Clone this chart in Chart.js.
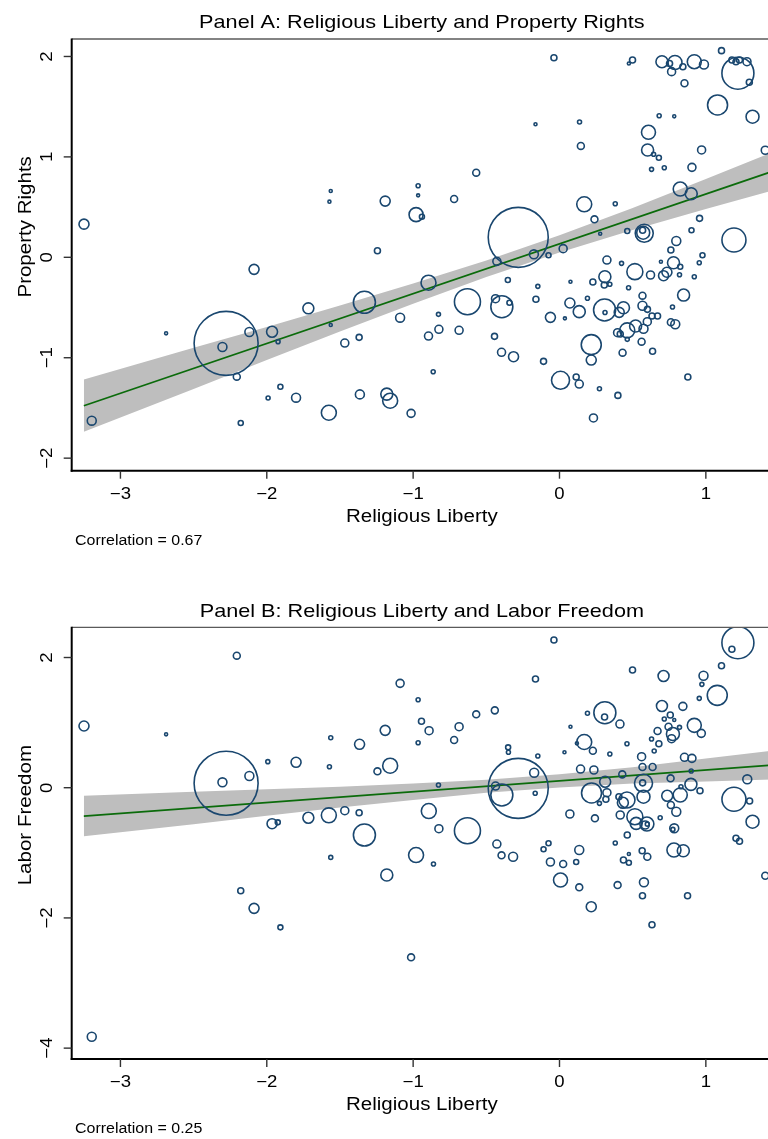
<!DOCTYPE html>
<html><head><meta charset="utf-8">
<script src="https://cdn.jsdelivr.net/npm/chart.js@4.4.1/dist/chart.umd.min.js"></script>
<style>
html,body{margin:0;padding:0;background:#fff;overflow:hidden;width:768px;height:1139px;position:relative;}
.wrap{position:absolute;left:0;width:772px;}
canvas{display:block;}
</style></head><body>
<div class="wrap" style="top:0"><canvas id="cA" width="772" height="560"></canvas></div>
<div class="wrap" style="top:560px"><canvas id="cB" width="772" height="579"></canvas></div>
<script>
// ---------------- DATA ----------------
const xTicks = [-3, -2, -1, 0, 1];
const xTickLabels = ['\u22123', '\u22122', '\u22121', '0', '1'];
const yTicksA = [-2, -1, 0, 1, 2];
const yTickLabelsA = ['\u22122', '\u22121', '0', '1', '2'];
const yTicksB = [-4, -2, 0, 2];
const yTickLabelsB = ['\u22124', '\u22122', '0', '2'];

// Panel A: Religious Liberty (x), Property Rights (y), marker weight (area)
const relA = [
-3.249,-2.087,-1.563,-1.572,-1.191,-1.244,-0.966,-0.966,-0.98,-0.94,
-0.038,0.499,0.474,0.70,0.789,0.752,0.766,0.843,0.921,0.987,
1.107,1.178,1.206,1.23,1.281,1.219,1.297,0.854,1.08,1.319,
0.681,0.784,0.608,-0.164,0.137,0.146,0.602,0.643,0.679,0.971,
1.406,0.629,0.716,0.905,-0.569,-0.72,0.169,0.381,0.825,0.90,
0.239,0.957,0.278,0.463,0.902,0.579,0.572,0.568,1.192,-0.282,
0.798,0.761,0.977,0.025,-0.075,-0.175,-0.428,0.324,0.424,0.779,
0.693,0.825,0.955,-0.895,0.515,-1.089,-0.827,-0.895,-0.824,-0.686,
-0.863,-0.629,-0.394,-0.437,-0.342,-0.353,-0.444,-0.396,-0.314,-0.148,
-0.161,-0.109,-0.062,0.037,0.075,0.071,0.135,0.007,0.114,0.135,
0.191,0.228,0.31,0.306,0.344,0.622,0.711,0.734,0.472,0.82,
0.921,0.848,0.308,0.311,0.217,0.217,0.273,0.232,0.399,0.408,
0.437,0.567,0.567,0.601,0.632,0.67,0.6,0.52,0.463,0.574,
0.397,0.415,0.463,0.561,0.431,0.636,0.772,0.761,0.791,0.877,
-1.014,-1.716,-1.333,-1.563,-2.688,-2.278,-2.303,-2.119,-1.964,-1.923,
-2.205,-1.467,-1.369,-1.907,-1.991,-1.8,-1.576,-1.364,-1.18,-1.157,
-3.196,-2.178];
const propA = [
0.33,-0.12,0.66,0.554,0.56,0.066,0.713,0.617,0.425,0.404,
1.988,1.965,1.93,1.948,1.94,1.93,1.849,1.898,1.948,1.92,
2.058,1.965,1.948,1.965,1.948,1.833,1.743,1.733,1.517,1.40,
1.41,1.404,1.245,1.325,1.348,1.109,1.069,1.026,0.992,1.069,
1.066,0.876,0.892,0.896,0.843,0.581,0.528,0.534,0.68,0.633,
0.378,0.388,0.235,0.262,0.269,0.239,0.245,0.27,0.172,0.199,
0.162,0.073,0.02,0.086,0.02,0.03,-0.04,-0.027,-0.06,-0.054,
-0.044,-0.094,-0.054,-0.253,-0.143,-0.601,-0.568,-0.784,-0.717,-0.727,
-1.139,-0.442,-0.492,-0.412,-0.452,-0.226,-0.787,-0.946,-0.99,-0.289,
-0.418,-1.036,-0.598,-0.608,-0.243,-0.455,-0.541,-1.225,-1.192,-1.262,
-0.408,-0.246,-0.193,-0.276,-0.269,-0.176,-0.183,-0.149,-0.303,-0.173,
-0.193,-0.376,-0.525,-0.55,-0.87,-1.023,-1.309,-1.6,-1.375,-0.548,
-0.502,-0.382,-0.482,-0.518,-0.585,-0.585,-0.641,-0.684,-0.727,-0.711,
-0.751,-0.764,-0.817,-0.84,-0.95,-0.936,-0.495,-0.647,-0.667,-1.192,
-1.554,-0.508,-0.448,-0.674,-0.757,-0.857,-0.893,-0.744,-0.741,-0.84,
-1.189,-0.854,-0.797,-1.289,-1.401,-1.398,-1.548,-1.365,-1.362,-1.428,
-1.627,-1.65];
const weightA = [
25,25,2.3,2.3,25,9,4,2.3,49,6.3,
9,9,2.3,36,49,9,16,9,49,20,
9,9,9,9,16,256,9,12,100,42,
4,2.3,49,2.3,4,12,36,4,6.3,16,
16,4,4,16,12,12,56,4,49,36,
12,9,2.3,6.3,6.3,81,42,9,144,900,
20,9,6.3,16,6.3,20,16,16,4,36,
2.3,6.3,4,56,64,20,4,16,16,16,
4,169,121,16,6.3,6.3,9,16,25,4,
9,9,25,2.3,2.3,25,36,81,9,16,
4,9,36,9,4,16,25,25,4,4,
4,36,121,4,100,25,4,16,9,25,
36,12,20,9,9,9,16,36,56,20,
16,9,4,12,12,9,4,12,20,9,
16,30,121,2.3,2.3,1024,20,20,30,4,
12,16,9,6.3,4,20,56,20,36,56,
20,6.3];

// Panel B: Religious Liberty (x), Labor Freedom (y), marker weight (area)
const relB = [
-3.249,-2.205,-2.688,-2.278,-2.303,-2.119,-1.993,-1.8,-1.563,-1.572,
-1.366,-1.191,-1.089,-0.966,-0.966,-1.244,-1.157,-1.964,-1.925,-1.716,
-1.576,-1.467,-1.369,-1.333,-0.98,-1.563,-1.18,-2.178,-2.087,-1.907,
-1.014,-3.196,-0.038,1.219,1.178,1.107,0.499,0.711,0.984,0.973,
1.078,0.955,-0.164,-0.943,-0.891,-0.686,-0.72,-0.569,-0.442,-0.351,
-0.349,-0.148,0.075,0.191,0.31,0.308,0.413,0.461,0.169,0.119,
0.228,0.034,0.344,0.144,0.235,0.561,0.567,0.636,0.629,0.647,
0.679,0.67,0.70,0.757,0.716,0.784,0.843,0.745,0.82,0.775,
0.766,0.921,0.969,0.854,0.905,0.90,0.429,0.759,1.283,1.192,
1.299,1.319,1.206,1.23,0.898,0.96,0.825,0.83,0.736,0.761,
0.798,0.784,0.775,0.688,0.782,0.846,0.574,0.568,0.574,0.461,
0.433,0.406,0.312,0.324,0.317,0.273,0.219,0.515,0.524,0.597,
0.586,0.6,0.415,0.242,0.071,0.463,0.381,0.135,-0.075,-0.109,
-0.428,-0.173,-0.166,-0.282,-0.394,-0.437,-0.827,-0.893,-0.824,-0.629,
-0.861,-0.396,-0.317,-0.062,0.025,0.114,0.007,0.135,0.217,0.397,
0.437,0.474,0.474,0.565,0.6,0.577,0.567,0.632,0.875,1.406];
const laborB = [
0.948,2.028,0.82,0.068,0.083,0.18,0.4,0.39,0.768,0.323,
0.667,0.881,1.603,1.352,0.691,0.252,0.338,-0.553,-0.532,-0.461,
-0.424,-0.353,-0.384,-0.727,-1.034,-1.07,-1.341,-1.582,-1.853,-2.145,
-2.605,-3.825,2.269,2.227,2.126,1.874,1.808,1.716,1.72,1.588,
1.419,1.373,1.67,1.02,0.876,0.937,0.733,1.127,1.188,0.62,
0.544,0.487,0.937,1.143,1.152,1.086,0.978,0.676,0.702,0.682,
0.568,0.544,0.518,0.287,0.272,0.476,0.318,0.318,0.748,0.564,
0.676,0.871,1.255,1.117,1.055,1.04,1.25,0.937,0.927,0.825,
0.753,0.958,0.835,0.467,0.451,0.257,0.205,0.144,0.129,-0.178,
-0.204,-0.522,-0.777,-0.823,0.052,-0.046,-0.112,0.015,-0.123,-0.266,
-0.369,-0.624,-0.64,-0.461,-0.957,-0.968,0.068,0.075,-0.138,-0.189,
-0.23,-0.138,0.092,-0.077,-0.178,-0.24,-0.081,-0.445,-0.547,-0.558,
-0.573,-0.56,-0.419,-0.47,-0.404,-0.727,-0.849,-0.957,-0.854,-0.946,
-0.865,0.23,-0.086,-0.01,-0.112,0.026,0.041,-0.358,-0.63,-0.66,
-1.172,-1.039,-1.06,-1.141,-1.172,-1.141,-1.418,-1.53,-1.828,-1.495,
-1.11,-1.152,-1.018,-0.968,-1.06,-1.453,-1.659,-2.104,-1.659,-1.352];
const weightB = [
25,12,2.3,1024,20,20,4,25,4,4,
25,25,16,4,4,12,56,25,6.3,30,
56,16,9,121,56,4,36,9,25,6.3,
12,20,9,256,9,9,9,30,20,4,
100,4,9,9,16,16,12,12,12,6.3,
4,4,2.3,4,121,9,16,4,56,2.3,
12,2.3,4,16,16,16,12,12,4,4,
9,12,30,9,4,2.3,16,12,4,42,
16,49,16,16,16,4,12,12,20,144,
9,42,9,9,36,9,49,4,30,12,
20,20,4,4,49,36,81,9,42,64,
30,9,30,16,9,4,100,64,36,49,
16,4,16,12,16,9,4,20,6.3,6.3,
16,20,4,900,121,16,4,56,16,169,
4,12,20,16,12,6.3,49,12,25,12,
9,6.3,2.3,9,12,20,9,9,9,12];

// Linear fit and 95% CI band
const fitX = [-3.25, 1.45];
const fitYA = [-1.478, 0.853];
const fitYB = [-0.435, 0.346];
const bandX = [-3.25, -2.5, -2, -1.5, -1, -0.5, 0, 0.5, 1, 1.45];
const bandHiA = [-1.218, -0.901, -0.693, -0.48, -0.262, -0.031, 0.219, 0.492, 0.78, 1.043];
const bandLoA = [-1.738, -1.311, -1.023, -0.74, -0.462, -0.197, 0.049, 0.272, 0.48, 0.663];
const bandHiB = [-0.125, -0.061, -0.022, 0.016, 0.063, 0.122, 0.205, 0.313, 0.447, 0.566];
const bandLoB = [-0.745, -0.561, -0.432, -0.304, -0.187, -0.078, 0.005, 0.063, 0.097, 0.126];

// ---------------- STYLE ----------------
const NAVY = '#1a476f';
const FITGREEN = '#0b6b0b';
const BANDGRAY = '#bebebe';
const FONT = '"Liberation Sans", Arial, Helvetica, sans-serif';
const STRETCH = 1.14;

function sText(ctx, str, x, y, size, align, rot) {
  ctx.save();
  ctx.translate(x, y);
  if (rot) ctx.rotate(rot);
  ctx.scale(STRETCH, 1);
  ctx.font = size + 'px ' + FONT;
  ctx.fillStyle = '#000';
  ctx.textAlign = align;
  ctx.textBaseline = 'alphabetic';
  ctx.fillText(str, 0, 0);
  ctx.restore();
}
function seg(ctx, x1, y1, x2, y2) { ctx.beginPath(); ctx.moveTo(x1, y1); ctx.lineTo(x2, y2); ctx.stroke(); }

const stataAxes = {
  id: 'stataAxes',
  afterDraw(chart) {
    const o = chart.options.plugins.stataAxes;
    const ctx = chart.ctx, a = chart.chartArea, xs = chart.scales.x, ys = chart.scales.y;
    ctx.save();
    ctx.lineCap = 'butt';
    ctx.strokeStyle = '#5a5a5a'; ctx.lineWidth = 1.3;
    seg(ctx, a.left, a.top, a.right, a.top);
    ctx.strokeStyle = '#000'; ctx.lineWidth = 2;
    seg(ctx, a.left, a.top - 0.6, a.left, a.bottom + 1);
    seg(ctx, a.left - 1, a.bottom, a.right, a.bottom);
    ctx.strokeStyle = '#333'; ctx.lineWidth = 1.4;
    o.xTicks.forEach((v, i) => {
      const px = xs.getPixelForValue(v);
      seg(ctx, px, a.bottom, px, a.bottom + 8);
      sText(ctx, o.xTickLabels[i], px, a.bottom + 28.3, 16.3, 'center');
    });
    o.yTicks.forEach((v, i) => {
      const py = ys.getPixelForValue(v);
      seg(ctx, a.left - 8, py, a.left, py);
      sText(ctx, o.yTickLabels[i], a.left - 20.2, py, 16.3, 'center', -Math.PI / 2);
    });
    const cx = (a.left + a.right) / 2;
    sText(ctx, o.title, cx, a.top - 10.7, 19, 'center');
    sText(ctx, o.xTitle, cx, a.bottom + 50.8, 18, 'center');
    sText(ctx, o.yTitle, a.left - 40.7, (a.top + a.bottom) / 2 - 28, 18, 'center', -Math.PI / 2);
    sText(ctx, o.note, a.left + 3.3, a.bottom + 74, 14, 'left');
    ctx.restore();
  }
};

function pts(xs, ys) { return xs.map((v, i) => ({ x: v, y: ys[i] })); }

function makePanel(id, p) {
  const bubbles = p.x.map((v, i) => ({ x: v, y: p.y[i], r: Math.sqrt(p.w[i]) }));
  return new Chart(document.getElementById(id), {
    type: 'bubble',
    data: {
      datasets: [
        { type: 'line', data: pts(bandX, p.hi), borderWidth: 0, pointRadius: 0, fill: '+1',
          backgroundColor: BANDGRAY, borderColor: 'rgba(0,0,0,0)', order: 3 },
        { type: 'line', data: pts(bandX, p.lo), borderWidth: 0, pointRadius: 0, fill: false,
          borderColor: 'rgba(0,0,0,0)', order: 3 },
        { type: 'line', data: pts(fitX, p.fit), borderWidth: 1.7, pointRadius: 0, fill: false,
          borderColor: FITGREEN, order: 2 },
        { type: 'bubble', data: bubbles, backgroundColor: 'rgba(0,0,0,0)', borderColor: NAVY,
          borderWidth: 1.6, hoverRadius: 0, order: 1 }
      ]
    },
    options: {
      responsive: false, animation: false, devicePixelRatio: 1, events: [],
      layout: { padding: p.pad, autoPadding: false },
      scales: {
        x: { type: 'linear', display: false, min: -3.333, max: 1.452 },
        y: { type: 'linear', display: false, min: p.ymin, max: p.ymax }
      },
      plugins: {
        legend: { display: false }, tooltip: { enabled: false },
        stataAxes: { xTicks, xTickLabels, yTicks: p.yTicks, yTickLabels: p.yTickLabels,
          title: p.title, xTitle: 'Religious Liberty', yTitle: p.yTitle, note: p.note }
      }
    },
    plugins: [stataAxes]
  });
}

makePanel('cA', {
  x: relA, y: propA, w: weightA, fit: fitYA, hi: bandHiA, lo: bandLoA,
  ymin: -2.125, ymax: 2.174, yTicks: yTicksA, yTickLabels: yTickLabelsA,
  pad: { left: 71.7, top: 39, right: 0, bottom: 89.3 },
  title: 'Panel A: Religious Liberty and Property Rights', yTitle: 'Property Rights',
  note: 'Correlation = 0.67'
});
makePanel('cB', {
  x: relB, y: laborB, w: weightB, fit: fitYB, hi: bandHiB, lo: bandLoB,
  ymin: -4.167, ymax: 2.464, yTicks: yTicksB, yTickLabels: yTickLabelsB,
  pad: { left: 71.7, top: 67.3, right: 0, bottom: 80 },
  title: 'Panel B: Religious Liberty and Labor Freedom', yTitle: 'Labor Freedom',
  note: 'Correlation = 0.25'
});
</script>
</body></html>
